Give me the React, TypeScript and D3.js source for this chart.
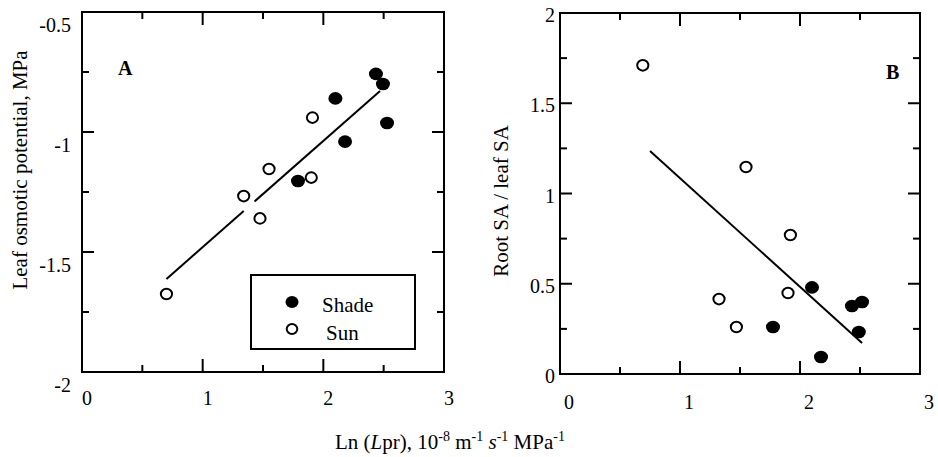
import * as d3 from 'd3'

// Panel A: leaf osmotic potential vs Ln(Lpr)
const sunA: [number, number][] = [
  [0.70, -1.675], [1.34, -1.267], [1.475, -1.36], [1.55, -1.154], [1.90, -1.19], [1.91, -0.94]
]
const shadeA: [number, number][] = [
  [1.79, -1.204], [2.10, -0.86], [2.18, -1.04], [2.436, -0.758], [2.494, -0.80], [2.528, -0.9625]
]
const fitA: [number, number][] = [[0.70, -1.6125], [2.47, -0.829]]
const fitAGap = [1.34, 1.43]

// Panel B: root SA / leaf SA vs Ln(Lpr)
const sunB: [number, number][] = [
  [0.69, 1.71], [1.55, 1.147], [1.92, 0.77], [1.325, 0.415], [1.90, 0.449], [1.47, 0.26]
]
const shadeB: [number, number][] = [
  [2.10, 0.48], [2.433, 0.377], [2.517, 0.399], [2.49, 0.233], [1.775, 0.26], [2.175, 0.094]
]
const fitB: [number, number][] = [[0.75, 1.235], [2.517, 0.172]]

const xTicks = [0, 0.5, 1, 1.5, 2, 2.5, 3]
const xLabels = [0, 1, 2, 3]
const yTicksA = [-2, -1.75, -1.5, -1.25, -1, -0.75, -0.5]
const yLabelsA = ['-2', '-1.5', '-1', '-0.5']
const yTicksB = [0, 0.25, 0.5, 0.75, 1, 1.25, 1.5, 1.75, 2]
const yLabelsB = ['0', '0.5', '1', '1.5', '2']

const font = "'Liberation Serif', 'DejaVu Serif', serif"

const Frame = ({ x, y, yTicks }: any) => {
  const [x0, x1] = x.range()
  const [y0, y1] = y.range() // y0 bottom, y1 top
  const isMajor = (v: number) => Math.abs(v - Math.round(v)) < 1e-6
  const isMajorY = (v: number) => Math.abs(v * 2 - Math.round(v * 2)) < 1e-6
  return (
    <g stroke="#000" strokeWidth={2}>
      <rect x={x0} y={y1} width={x1 - x0} height={y0 - y1} fill="none" />
      {xTicks.map(t => {
        const len = isMajor(t) ? 13 : 7
        return (
          <g key={'x' + t}>
            <line x1={x(t)} x2={x(t)} y1={y0} y2={y0 - len} />
            <line x1={x(t)} x2={x(t)} y1={y1} y2={y1 + len} />
          </g>
        )
      })}
      {yTicks.map((t: number) => {
        const len = isMajorY(t) ? 12 : 7
        return (
          <g key={'y' + t}>
            <line x1={x0} x2={x0 + len} y1={y(t)} y2={y(t)} />
            <line x1={x1} x2={x1 - len} y1={y(t)} y2={y(t)} />
          </g>
        )
      })}
    </g>
  )
}

const Points = ({ x, y, sun, shade }: any) => (
  <g>
    {shade.map((d: [number, number], i: number) => (
      <ellipse key={'f' + i} cx={x(d[0])} cy={y(d[1])} rx={7} ry={6.3} fill="#000" />
    ))}
    {sun.map((d: [number, number], i: number) => (
      <ellipse key={'o' + i} cx={x(d[0])} cy={y(d[1])} rx={5.6} ry={5.3} fill="#fff" stroke="#000" strokeWidth={2} />
    ))}
  </g>
)

export default function App() {
  // panel A scales
  const xA = d3.scaleLinear().domain([0, 3]).range([82, 444])
  const yA = d3.scaleLinear().domain([-2, -0.5]).range([372, 12])
  // panel B scales
  const xB = d3.scaleLinear().domain([0, 3]).range([560, 920])
  const yB = d3.scaleLinear().domain([0, 2]).range([374, 13])

  const fitLineA = (a: number, b: number) => {
    const f = d3.scaleLinear().domain([fitA[0][0], fitA[1][0]]).range([fitA[0][1], fitA[1][1]])
    return { x1: xA(a), y1: yA(f(a)), x2: xA(b), y2: yA(f(b)) }
  }
  const segA1 = fitLineA(fitA[0][0], fitAGap[0])
  const segA2 = fitLineA(fitAGap[1], fitA[1][0])

  return (
    <svg width={938} height={457} style={{ position: 'absolute', left: 0, top: 0, background: '#fff', fontFamily: font }}>
      {/* Panel A */}
      <Frame x={xA} y={yA} yTicks={yTicksA} />
      <line {...segA1} stroke="#000" strokeWidth={2} />
      <line {...segA2} stroke="#000" strokeWidth={2} />
      <Points x={xA} y={yA} sun={sunA} shade={shadeA} />
      {yLabelsA.map(l => (
        <text key={l} x={71} y={yA(+l) + 13} dy="0.35em" textAnchor="end" fontSize={20}>{l}</text>
      ))}
      {xLabels.map(l => (
        <text key={l} x={xA(l) + 5} y={405} textAnchor="middle" fontSize={20}>{l}</text>
      ))}
      <text x={118} y={75} fontSize={20} fontWeight="bold">A</text>
      <text transform="translate(27,170) rotate(-90)" textAnchor="middle" fontSize={21}>Leaf osmotic potential, MPa</text>

      {/* legend */}
      <rect x={251} y={275} width={164} height={74} fill="#fff" stroke="#000" strokeWidth={2} />
      <ellipse cx={292} cy={302} rx={6.5} ry={6} fill="#000" />
      <ellipse cx={292} cy={329} rx={5.3} ry={5} fill="#fff" stroke="#000" strokeWidth={2} />
      <text x={322} y={312} fontSize={21}>Shade</text>
      <text x={326} y={340} fontSize={21}>Sun</text>

      {/* Panel B */}
      <Frame x={xB} y={yB} yTicks={yTicksB} />
      <line x1={xB(fitB[0][0])} y1={yB(fitB[0][1])} x2={xB(fitB[1][0])} y2={yB(fitB[1][1])} stroke="#000" strokeWidth={2} />
      <Points x={xB} y={yB} sun={sunB} shade={shadeB} />
      {yLabelsB.map(l => (
        <text key={l} x={555} y={yB(+l) + 2} dy="0.35em" textAnchor="end" fontSize={20}>{l}</text>
      ))}
      {xLabels.map(l => (
        <text key={l} x={xB(l) + 9} y={409} textAnchor="middle" fontSize={20}>{l}</text>
      ))}
      <text x={886} y={79} fontSize={20} fontWeight="bold">B</text>
      <text transform="translate(508,201) rotate(-90)" textAnchor="middle" fontSize={21}>Root SA / leaf SA</text>

      {/* shared x title */}
      <text x={450} y={449} textAnchor="middle" fontSize={21}>
        Ln (<tspan fontStyle="italic">L</tspan>pr), 10<tspan fontSize={14} dy={-8}>-8</tspan>
        <tspan dy={8}> m</tspan><tspan fontSize={14} dy={-8}>-1</tspan>
        <tspan dy={8}> </tspan><tspan fontStyle="italic">s</tspan><tspan fontSize={14} dy={-8}>-1</tspan>
        <tspan dy={8}> MPa</tspan><tspan fontSize={14} dy={-8}>-1</tspan>
      </text>
    </svg>
  )
}
